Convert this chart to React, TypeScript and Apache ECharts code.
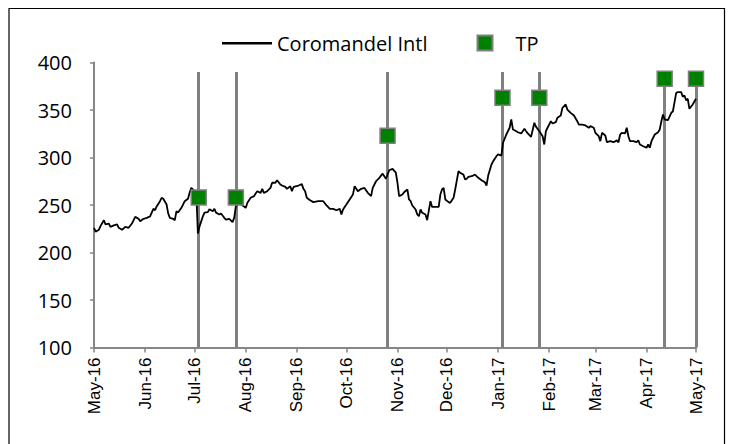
import React, { useEffect, useRef } from "react";
import * as echarts from "echarts";

const priceDates = [
  "2016-05-01", "2016-05-02", "2016-05-04", "2016-05-05", "2016-05-07", "2016-05-08", "2016-05-10", "2016-05-11", "2016-05-13", "2016-05-15", "2016-05-16", "2016-05-18", "2016-05-20", "2016-05-22", "2016-05-24", "2016-05-26", "2016-05-28", "2016-05-29", "2016-05-31",
  "2016-06-02", "2016-06-04", "2016-06-06", "2016-06-07", "2016-06-08", "2016-06-10", "2016-06-11", "2016-06-12", "2016-06-14", "2016-06-15", "2016-06-16", "2016-06-18", "2016-06-19", "2016-06-20", "2016-06-21", "2016-06-23", "2016-06-25", "2016-06-27", "2016-06-28", "2016-06-29",
  "2016-07-02", "2016-07-03", "2016-07-04", "2016-07-06", "2016-07-07", "2016-07-09", "2016-07-10", "2016-07-12", "2016-07-13", "2016-07-14", "2016-07-16", "2016-07-17", "2016-07-19", "2016-07-20", "2016-07-22", "2016-07-24", "2016-07-25", "2016-07-26", "2016-07-28",
  "2016-08-01", "2016-08-02", "2016-08-04", "2016-08-06", "2016-08-07", "2016-08-08", "2016-08-10", "2016-08-11", "2016-08-12", "2016-08-14", "2016-08-16", "2016-08-17", "2016-08-19", "2016-08-20", "2016-08-22", "2016-08-23", "2016-08-25", "2016-08-26", "2016-08-28", "2016-08-29", "2016-08-30",
  "2016-09-02", "2016-09-04", "2016-09-05", "2016-09-06", "2016-09-07", "2016-09-09", "2016-09-11", "2016-09-14", "2016-09-17", "2016-09-19", "2016-09-21", "2016-09-23", "2016-09-25", "2016-09-27", "2016-09-28", "2016-09-29",
  "2016-10-01", "2016-10-03", "2016-10-05", "2016-10-06", "2016-10-08", "2016-10-10", "2016-10-12", "2016-10-14", "2016-10-16", "2016-10-17", "2016-10-19", "2016-10-21", "2016-10-23", "2016-10-25", "2016-10-27", "2016-10-29", "2016-10-31",
  "2016-11-01", "2016-11-02", "2016-11-04", "2016-11-05", "2016-11-07", "2016-11-08", "2016-11-09", "2016-11-10", "2016-11-12", "2016-11-13", "2016-11-14", "2016-11-15", "2016-11-16", "2016-11-18", "2016-11-19", "2016-11-21", "2016-11-22", "2016-11-26", "2016-11-27", "2016-11-28", "2016-11-29", "2016-11-30",
  "2016-12-02", "2016-12-03", "2016-12-05", "2016-12-06", "2016-12-08", "2016-12-09", "2016-12-11", "2016-12-12", "2016-12-13", "2016-12-14", "2016-12-16", "2016-12-18", "2016-12-20", "2016-12-22", "2016-12-24", "2016-12-25", "2016-12-26", "2016-12-28", "2016-12-29", "2016-12-31",
  "2017-01-01", "2017-01-03", "2017-01-04", "2017-01-06", "2017-01-08", "2017-01-09", "2017-01-10", "2017-01-11", "2017-01-13", "2017-01-15", "2017-01-17", "2017-01-18", "2017-01-19", "2017-01-21", "2017-01-23", "2017-01-24", "2017-01-26", "2017-01-28", "2017-01-29", "2017-01-30", "2017-01-31",
  "2017-02-02", "2017-02-03", "2017-02-05", "2017-02-06", "2017-02-08", "2017-02-09", "2017-02-11", "2017-02-12", "2017-02-14", "2017-02-16", "2017-02-18", "2017-02-19", "2017-02-21", "2017-02-23", "2017-02-25", "2017-02-26", "2017-02-28",
  "2017-03-01", "2017-03-03", "2017-03-04", "2017-03-05", "2017-03-07", "2017-03-08", "2017-03-10", "2017-03-12", "2017-03-14", "2017-03-15", "2017-03-16", "2017-03-17", "2017-03-19", "2017-03-20", "2017-03-21", "2017-03-22", "2017-03-24", "2017-03-26", "2017-03-27", "2017-03-28", "2017-03-30",
  "2017-04-01", "2017-04-02", "2017-04-03", "2017-04-04", "2017-04-06", "2017-04-08", "2017-04-09", "2017-04-10", "2017-04-11", "2017-04-12", "2017-04-14", "2017-04-16", "2017-04-17", "2017-04-19", "2017-04-20", "2017-04-22", "2017-04-23", "2017-04-24", "2017-04-25", "2017-04-26", "2017-04-27", "2017-04-29", "2017-05-01",
];

const priceValues = [
  226, 222, 224, 228, 234, 229.5, 230.5, 227, 228.5, 229.5, 226, 224, 227, 226, 230.5, 237.5, 235.5, 233, 235.5,
  236.5, 238, 246, 244.5, 248.5, 254, 257.5, 256.5, 250.5, 241, 236.5, 235.5, 234, 243.5, 242, 247, 254, 256.5, 263, 268,
  263, 220, 227.5, 238, 242, 242.5, 245.5, 243.5, 246, 242, 240, 241, 236.5, 234.5, 235.5, 232, 236.5, 248.5, 252,
  247, 252.3, 257.6, 259.3, 262, 264.5, 262.8, 267, 262.8, 264.5, 268, 273.4, 273.4, 276, 271.6, 270.5, 269, 267, 269.8, 264.5, 269,
  270.5, 272, 267, 264.5, 257.6, 255, 253, 254, 254, 249.5, 246, 246, 244.5, 246, 240, 245.3,
  250.5, 255.8, 261, 269.8, 264.5, 267, 268, 262.8, 259.3, 268, 275, 278.6, 283, 277.6, 286.6, 288, 284,
  273.4, 259.3, 261, 263.5, 266.3, 255.8, 254, 249.5, 245.3, 240, 238.2, 245.3, 241.8, 240, 234, 254, 248, 248, 261, 266.3, 268, 255.8,
  253, 252.3, 257.6, 266.3, 285.6, 283.9, 282, 276.8, 277.6, 279.7, 280.3, 282, 278.6, 276, 274, 270.5, 281, 292.6, 296, 301.4,
  303.2, 302, 315.5, 324.2, 331.3, 340, 329.5, 328.7, 326.6, 325.3, 330.2, 327.7, 325.3, 321.8, 336.5, 332.3, 327.7, 322.4, 313.7, 327.7, 331.3,
  338.2, 335.8, 337.2, 341.8, 344.2, 352.3, 355.8, 350.5, 347, 344.2, 338.2, 334.7, 334.7, 333.7, 331.3, 333, 331.3,
  326, 322.4, 317.2, 326, 323.2, 316.1, 317.2, 316.1, 318, 316, 324.2, 326, 325.3, 331.3, 322.4, 317.2, 317.2, 316.1, 318.2, 313.7, 311.9,
  310.2, 313.7, 310.2, 317.2, 324.2, 326.6, 329.5, 338.2, 345.3, 340, 339.3, 347, 348.7, 368.1, 368.8, 368.8, 363.9, 365.3, 360.3, 361.8, 351.3, 355.8, 361.8,
];

const tpDates = ["2016-07-03 12:00", "2016-07-26", "2016-10-26", "2017-01-03 16:00", "2017-01-26", "2017-04-12", "2017-05-01"];
const tpValues = [258, 258, 323, 363, 363, 383, 383];
const tpLineTop = 390;

const monthTicks = [
  "2016-05-01", "2016-06-01", "2016-07-01", "2016-08-01", "2016-09-01", "2016-10-01", "2016-11-01",
  "2016-12-01", "2017-01-01", "2017-02-01", "2017-03-01", "2017-04-01", "2017-05-01",
];
const monthLabels = [
  "May-16", "Jun-16", "Jul-16", "Aug-16", "Sep-16", "Oct-16", "Nov-16",
  "Dec-16", "Jan-17", "Feb-17", "Mar-17", "Apr-17", "May-17",
];

const yMin = 100;
const yMax = 400;
const yInterval = 50;

export default function App() {
  const ref = useRef<HTMLDivElement>(null);

  useEffect(() => {
    if (!ref.current) return;
    const chart = echarts.init(ref.current, null, { renderer: "svg" });
    const t = (s: string) => +echarts.time.parse(s);
    const tickVals = monthTicks.map(t);
    const axisGray = "#868686";
    const calFont = "Open Sans";

    const option: any = {
      animation: false,
      backgroundColor: "#ffffff",
      grid: {
        left: 94,
        right: 37,
        top: 62.5,
        bottom: 96.5,
        containLabel: false,
        outerBoundsMode: "none",
      },
      legend: [
        {
          data: [{ name: "Coromandel Intl", icon: "rect", itemStyle: { color: "#000", borderWidth: 0 } }],
          left: 222,
          top: 33.2,
          padding: 0,
          itemWidth: 50,
          itemHeight: 2.5,
          selectedMode: false,
          textStyle: { fontFamily: calFont, fontSize: 20, color: "#000" },
        },
        {
          data: [{ name: "TP", icon: "rect" }],
          left: 476.5,
          top: 33,
          padding: 0,
          itemWidth: 15,
          itemHeight: 15,
          selectedMode: false,
          textStyle: { fontFamily: calFont, fontSize: 20, color: "#000", padding: [0, 0, 0, 18] },
        },
      ],
      xAxis: {
        type: "value",
        min: tickVals[0],
        max: tickVals[tickVals.length - 1],
        splitLine: { show: false },
        axisLine: { show: true, lineStyle: { color: axisGray, width: 2 } },
        axisTick: {
          show: true,
          customValues: tickVals,
          length: 5,
          lineStyle: { color: axisGray, width: 1.5 },
        },
        axisLabel: {
          customValues: tickVals,
          rotate: 90,
          margin: 10,
          fontFamily: "Liberation Sans",
          fontSize: 17,
          color: "#000",
          formatter: (v: number) => {
            const i = tickVals.indexOf(v);
            return i >= 0 ? monthLabels[i] : "";
          },
        },
      },
      yAxis: {
        type: "value",
        min: yMin,
        max: yMax,
        interval: yInterval,
        splitLine: { show: false },
        axisLine: { show: true, lineStyle: { color: axisGray, width: 2 } },
        axisTick: { show: true, length: 4, lineStyle: { color: axisGray, width: 1.5 } },
        axisLabel: {
          margin: 22,
          fontFamily: calFont,
          fontSize: 20,
          color: "#000",
        },
      },
      graphic: [
        {
          type: "rect",
          silent: true,
          shape: { x: 9, y: 8.5, width: 715.5, height: 460 },
          style: { fill: "none", stroke: "#000", lineWidth: 1.2 },
          z: 100,
        },
      ],
      series: [
        {
          name: "TP lines",
          type: "scatter",
          data: [],
          z: 1,
          silent: true,
          markLine: {
            silent: true,
            z: 1,
            symbol: ["none", "none"],
            label: { show: false },
            lineStyle: { color: "#808080", width: 3, type: "solid" },
            emphasis: { disabled: true },
            data: tpDates.map((d) => [
              { coord: [t(d), yMin] },
              { coord: [t(d), tpLineTop] },
            ]),
          },
        },
        {
          name: "Coromandel Intl",
          type: "line",
          z: 3,
          showSymbol: false,
          symbol: "none",
          lineStyle: { color: "#000", width: 1.8 },
          itemStyle: { color: "#000" },
          data: priceDates.map((d, i) => [t(d), priceValues[i]]),
        },
        {
          name: "TP",
          type: "scatter",
          z: 6,
          clip: false,
          symbol: "rect",
          symbolSize: 15,
          itemStyle: { color: "#008000", borderColor: "#808080", borderWidth: 1.5, opacity: 1 },
          data: tpDates.map((d, i) => [t(d), tpValues[i]]),
        },
      ],
    };

    chart.setOption(option);
    return () => chart.dispose();
  }, []);

  return (
    <div
      ref={ref}
      style={{ position: "fixed", left: 0, top: 0, width: 733, height: 444, background: "#fff" }}
    />
  );
}
